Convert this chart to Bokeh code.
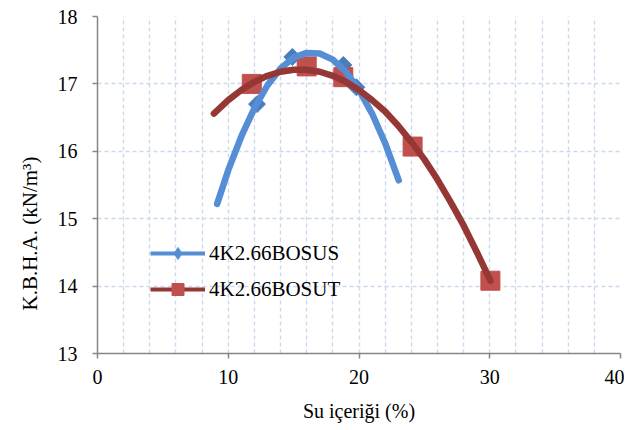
import math
from bokeh.plotting import figure
from bokeh.models import (SingleIntervalTicker, Legend, LegendItem, Title,
                          ColumnDataSource, Range1d)
from bokeh.embed import file_html
from bokeh.resources import INLINE

# --- data ---
x_ticks = [0, 10, 20, 30, 40]
y_ticks = [13, 14, 15, 16, 17, 18]

bosus_x = [12.2, 14.9, 18.8, 19.8]
bosus_y = [16.70, 17.40, 17.28, 16.95]

bosut_x = [11.8, 16.0, 18.8, 24.1, 30.05]
bosut_y = [17.00, 17.26, 17.10, 16.07, 14.08]

# trend curves
bosus_curve_x = [9.15, 10, 11, 12, 13, 14, 15, 16, 17, 18, 19, 20, 21, 22, 23.04]
bosus_curve_y = [15.22, 15.72, 16.22, 16.64, 16.98, 17.23, 17.39, 17.46, 17.45,
                 17.36, 17.18, 16.91, 16.56, 16.12, 15.57]

bosut_curve_x = [8.9, 10, 11, 12, 13, 14, 15, 16, 17, 18, 19, 20, 21, 22, 23, 24,
                 25, 26, 27, 28, 29, 30.05]
bosut_curve_y = [16.56, 16.76, 16.91, 17.03, 17.12, 17.18, 17.21, 17.21, 17.18,
                 17.12, 17.03, 16.91, 16.76, 16.59, 16.38, 16.14, 15.88, 15.58,
                 15.25, 14.90, 14.51, 14.08]

series_names = ["4K2.66BOSUS", "4K2.66BOSUT"]
x_title = "Su içeriği (%)"
y_title = "K.B.H.A. (kN/m³)"

BLUE_LINE = "#558ED5"
BLUE_MARK = "#4A7EBB"
RED_LINE = "#953735"
RED_MARK = "#C0504D"
FONT = "Liberation Serif"

p = figure(output_backend="svg", toolbar_location=None,
           frame_width=523, frame_height=337,
           min_border_left=97, min_border_right=4,
           min_border_top=16, min_border_bottom=72,
           x_range=Range1d(0, 40), y_range=Range1d(13, 18))
p.outline_line_color = None
p.background_fill_color = "white"
p.border_fill_color = "white"

# grids
p.xgrid.ticker = SingleIntervalTicker(interval=2)
p.ygrid.ticker = SingleIntervalTicker(interval=1)
for g in (p.xgrid, p.ygrid):
    g.grid_line_color = "#CCD9EC"
    g.grid_line_dash = "4 3"
    g.grid_line_width = 1.4

# axes
p.xaxis.ticker = x_ticks
p.yaxis.ticker = y_ticks
for ax in (p.xaxis, p.yaxis):
    ax.axis_line_color = "#868686"
    ax.axis_line_width = 1.5
    ax.major_tick_line_color = "#868686"
    ax.major_tick_line_width = 1.5
    ax.major_tick_in = 0
    ax.major_tick_out = 5
    ax.minor_tick_line_color = None
    ax.major_label_text_font = FONT
    ax.major_label_text_font_size = "20px"
    ax.major_label_text_color = "black"
    ax.axis_label_text_font = FONT
    ax.axis_label_text_font_size = "20px"
    ax.axis_label_text_font_style = "normal"
    ax.axis_label_text_color = "black"
p.xaxis.major_label_standoff = 11
p.yaxis.major_label_standoff = 15
p.xaxis.axis_label = x_title
p.xaxis.axis_label_standoff = 13

# y-axis title as a side title, placed along the axis like the reference
ytitle = Title(text=y_title, align="left", offset=43, standoff=26,
               text_font=FONT, text_font_size="21px", text_font_style="normal",
               text_color="black")
p.add_layout(ytitle, "left")

# markers
p.scatter(bosus_x, bosus_y, marker="square", angle=math.pi / 4, size=12,
          fill_color=BLUE_MARK, line_color=BLUE_MARK)
p.scatter(bosut_x, bosut_y, marker="square", size=19,
          fill_color=RED_MARK, line_color=RED_MARK)

# trend curves
p.line(bosus_curve_x, bosus_curve_y, line_color=BLUE_LINE, line_width=6.5,
       line_cap="round", line_join="round")
p.line(bosut_curve_x, bosut_curve_y, line_color=RED_LINE, line_width=6.5,
       line_cap="round", line_join="round")

# legend-only renderers (no visible data)
nan = float("nan")
src1 = ColumnDataSource(dict(x=[nan], y=[nan]))
src2 = ColumnDataSource(dict(x=[nan], y=[nan]))
lg_l1 = p.line("x", "y", source=src1, line_color=BLUE_LINE, line_width=4)
lg_m1 = p.scatter("x", "y", source=src1, marker="diamond",
                  size=8, fill_color=BLUE_LINE, line_color=BLUE_LINE)
lg_l2 = p.line("x", "y", source=src2, line_color=RED_LINE, line_width=4)
lg_m2 = p.scatter("x", "y", source=src2, marker="square", size=12,
                  fill_color=RED_MARK, line_color=RED_MARK)

legend = Legend(items=[LegendItem(label=series_names[0], renderers=[lg_l1, lg_m1], index=0),
                       LegendItem(label=series_names[1], renderers=[lg_l2, lg_m2], index=0)],
                location=(53, 49), orientation="vertical",
                glyph_width=55, glyph_height=30, label_height=30,
                label_standoff=4, spacing=6, padding=0, margin=0,
                border_line_color=None, background_fill_alpha=0,
                label_text_font=FONT, label_text_font_size="21px",
                label_text_color="black")
p.add_layout(legend)

open("out.html", "w").write(file_html(p, INLINE))
